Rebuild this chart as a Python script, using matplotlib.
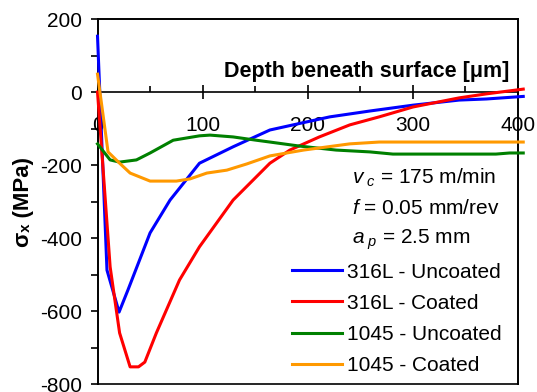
import numpy as np
import matplotlib.pyplot as plt

plt.rcParams['font.family'] = ['Liberation Sans', 'DejaVu Sans']
plt.rcParams['mathtext.fontset'] = 'custom'
plt.rcParams['mathtext.rm'] = 'Liberation Sans'
plt.rcParams['mathtext.it'] = 'Liberation Sans:italic'
plt.rcParams['axes.unicode_minus'] = False

# data (depth in um, stress in MPa)
x_316_unc = [0, 9, 20.5, 29, 50, 69, 97, 129, 164, 186, 221, 259, 300, 344, 370, 405]
y_316_unc = [153, -488, -603, -542, -386, -296, -195, -150, -104, -90, -68, -52, -36, -22, -19, -12]

x_316_coat = [0, 12, 21, 31, 39, 45, 56, 78, 97, 129, 164, 183, 211, 240, 268, 300, 344, 370, 405]
y_316_coat = [0, -479, -660, -753, -753, -740, -660, -515, -424, -296, -195, -159, -123, -90, -68, -41, -16, -5, 8]

x_1045_unc = [0, 12, 21, 37, 50, 72, 97, 107, 129, 151, 164, 192, 227, 259, 281, 379, 392, 405]
y_1045_unc = [-142, -186, -192, -186, -167, -132, -120, -118, -123, -132, -137, -148, -159, -164, -170, -170, -167, -167]

x_1045_coat = [0, 10, 21, 31, 50, 75, 88, 104, 123, 142, 164, 196, 240, 268, 405]
y_1045_coat = [49, -164, -195, -222, -244, -244, -238, -222, -214, -197, -175, -159, -142, -137, -137]

labels = ['316L - Uncoated', '316L - Coated', '1045 - Uncoated', '1045 - Coated']
colors = ['#0000FF', '#FF0000', '#008000', '#FF9900']

fs = 15
rect = [0.1816, 0.0204, 0.783, 0.931]
fig = plt.figure(figsize=(5.37, 3.92), dpi=100)

# plain box around the plot area
frame = fig.add_axes(rect)
frame.set_xticks([])
frame.set_yticks([])
for sp in frame.spines.values():
    sp.set_linewidth(1.2)

ax = fig.add_axes(rect)
ax.set_facecolor('none')

series = [(x_316_unc, y_316_unc), (x_316_coat, y_316_coat),
          (x_1045_unc, y_1045_unc), (x_1045_coat, y_1045_coat)]
for (xs, ys), lab, c in zip(series, labels, colors):
    ax.plot(xs, ys, color=c, lw=2.2, label=lab, clip_on=False, zorder=3)

ax.set_xlim(0, 400)
ax.set_ylim(-800, 200)
for sp in ax.spines.values():
    sp.set_linewidth(1.2)
ax.spines['bottom'].set_position(('data', 0))

ax.set_yticks(np.arange(-800, 201, 200))
ax.set_yticks(np.arange(-700, 200, 200), minor=True)
ax.tick_params(axis='y', which='both', direction='out', length=5, width=1.2,
               labelsize=fs, pad=6)

ax.set_xticks([0, 100, 200, 300, 400])
ax.set_xticks([50, 150, 250, 350], minor=True)
ax.tick_params(axis='x', which='major', direction='inout', length=10, width=1.2,
               labelsize=fs, pad=12)
ax.tick_params(axis='x', which='minor', direction='in', length=4, width=1.2)

ax.text(0.979, 0.855, 'Depth beneath surface [μm]', transform=ax.transAxes,
        ha='right', va='center', fontsize=15.5, fontweight='bold')
ax.set_ylabel('σₓ (MPa)', fontsize=16, fontweight='bold')
ax.yaxis.set_label_coords(-0.15, 0.5)

ax.text(0.605, 0.564, r'$v_{\ c}$ = 175 m/min', transform=ax.transAxes,
        ha='left', va='center', fontsize=fs)
ax.text(0.605, 0.482, r'$f$ = 0.05 mm/rev', transform=ax.transAxes,
        ha='left', va='center', fontsize=fs)
ax.text(0.605, 0.395, r'$a_{\ p}$ = 2.5 mm', transform=ax.transAxes,
        ha='left', va='center', fontsize=fs)

ax.legend(loc='upper left', bbox_to_anchor=(0.544, 0.330), bbox_transform=fig.transFigure,
          frameon=False, fontsize=fs, handlelength=2.4, handletextpad=0.25,
          labelspacing=0.58, borderpad=0, borderaxespad=0)

fig.savefig('out.png', dpi=100)
